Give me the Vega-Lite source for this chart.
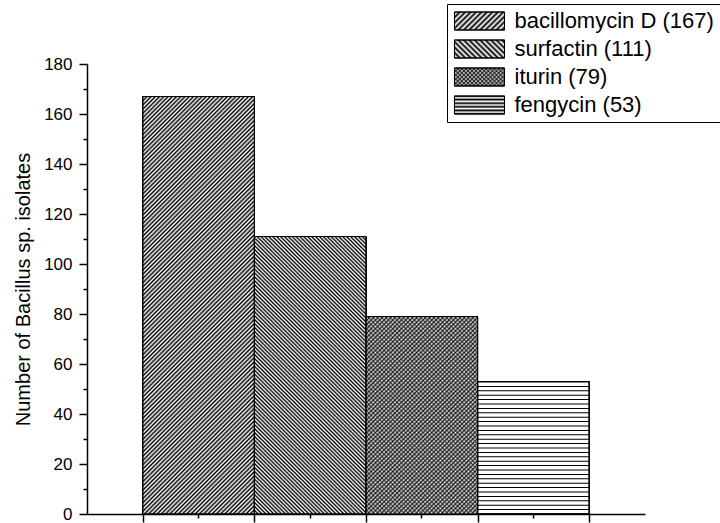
{
"$schema":"https://vega.github.io/schema/vega-lite/v6.json",
"width":558,"height":450,"autosize":"none",
"padding":{"left":87,"top":64,"right":75,"bottom":9},
"background":"white",
"config":{"view":{"stroke":null},"font":"Liberation Sans"},
"data":{"values":[
{"lipopeptide":"bacillomycin D (167)","count":167},
{"lipopeptide":"surfactin (111)","count":111},
{"lipopeptide":"iturin (79)","count":79},
{"lipopeptide":"fengycin (53)","count":53}
]},
"encoding":{"y":{"field":"count","type":"quantitative","scale":{"domain":[0,180],"nice":false},
"axis":{"title":"Number of Bacillus sp. isolates","values":[0,10,20,30,40,50,60,70,80,90,100,110,120,130,140,150,160,170,180],
"labelExpr":"datum.value % 20 === 0 ? datum.label : ''","labelOverlap":false,"labelFont":"Liberation Sans","labelFontSize":17,"labelColor":"black","labelPadding":7,
"tickSize":{"condition":{"test":"datum.value % 20 !== 0","value":4},"value":8},"tickWidth":1.5,"tickColor":"black","domainColor":"black","domainWidth":1.5,"grid":false,
"titleFont":"Liberation Sans","titleFontSize":20,"titleFontWeight":"normal","titleColor":"black","titlePadding":10}}},
"layer":[
{"encoding":{"x":{"field":"lipopeptide","type":"nominal","sort":null,
"scale":{"domain":["bacillomycin D (167)","surfactin (111)","iturin (79)","fengycin (53)"],"paddingInner":0,"paddingOuter":0.5},
"axis":{"title":null,"labels":false,"orient":"bottom","tickBand":"extent","tickSize":8,"tickWidth":1.5,"tickColor":"black","domainColor":"black","domainWidth":1.5,"grid":false}}},
"layer":[
{"mark":{"type":"bar","filled":false},"encoding":{"stroke":{"field":"lipopeptide","type":"nominal","scale":{"domain":["bacillomycin D (167)","surfactin (111)","iturin (79)","fengycin (53)"],"range":["black","black","black","black"]},
"legend":{"orient":"none","legendX":360,"legendY":-60,"title":null,"padding":6,"strokeColor":"black","symbolType":"M-2.78,-1H2.78V1H-2.78Z","symbolSize":324,"symbolOffset":15.5,"symbolStrokeColor":"black","symbolStrokeWidth":1,"labelFont":"Liberation Sans","labelFontSize":22,"labelColor":"black","labelOffset":24,"labelLimit":400,"rowPadding":6,
"encoding":{"symbols":{"fill":{"condition":[
{"test":"datum.value === 'bacillomycin D (167)'","value":{"gradient":"linear","x1":0,"y1":0,"x2":1.204,"y2":0.4334,"stops":[{"offset":0,"color":"#000"},{"offset":0.04,"color":"#fff"},{"offset":0.08,"color":"#000"},{"offset":0.12,"color":"#fff"},{"offset":0.16,"color":"#000"},{"offset":0.2,"color":"#fff"},{"offset":0.24,"color":"#000"},{"offset":0.28,"color":"#fff"},{"offset":0.32,"color":"#000"},{"offset":0.36,"color":"#fff"},{"offset":0.4,"color":"#000"},{"offset":0.44,"color":"#fff"},{"offset":0.48,"color":"#000"},{"offset":0.52,"color":"#fff"},{"offset":0.56,"color":"#000"},{"offset":0.6,"color":"#fff"},{"offset":0.64,"color":"#000"},{"offset":0.68,"color":"#fff"},{"offset":0.72,"color":"#000"},{"offset":0.76,"color":"#fff"},{"offset":0.8,"color":"#000"},{"offset":0.84,"color":"#fff"},{"offset":0.88,"color":"#000"},{"offset":0.92,"color":"#fff"},{"offset":0.96,"color":"#000"},{"offset":1,"color":"#fff"}]}},
{"test":"datum.value === 'surfactin (111)'","value":{"gradient":"linear","x1":0,"y1":1,"x2":1.204,"y2":0.5666,"stops":[{"offset":0,"color":"#000"},{"offset":0.04,"color":"#fff"},{"offset":0.08,"color":"#000"},{"offset":0.12,"color":"#fff"},{"offset":0.16,"color":"#000"},{"offset":0.2,"color":"#fff"},{"offset":0.24,"color":"#000"},{"offset":0.28,"color":"#fff"},{"offset":0.32,"color":"#000"},{"offset":0.36,"color":"#fff"},{"offset":0.4,"color":"#000"},{"offset":0.44,"color":"#fff"},{"offset":0.48,"color":"#000"},{"offset":0.52,"color":"#fff"},{"offset":0.56,"color":"#000"},{"offset":0.6,"color":"#fff"},{"offset":0.64,"color":"#000"},{"offset":0.68,"color":"#fff"},{"offset":0.72,"color":"#000"},{"offset":0.76,"color":"#fff"},{"offset":0.8,"color":"#000"},{"offset":0.84,"color":"#fff"},{"offset":0.88,"color":"#000"},{"offset":0.92,"color":"#fff"},{"offset":0.96,"color":"#000"},{"offset":1,"color":"#fff"}]}},
{"test":"datum.value === 'iturin (79)'","value":{"gradient":"linear","x1":0,"y1":0,"x2":1.204,"y2":0.4334,"stops":[{"offset":0,"color":"rgba(0,0,0,0.75)"},{"offset":0.03,"color":"rgba(0,0,0,0)"},{"offset":0.06,"color":"rgba(0,0,0,0.75)"},{"offset":0.09,"color":"rgba(0,0,0,0)"},{"offset":0.12,"color":"rgba(0,0,0,0.75)"},{"offset":0.15,"color":"rgba(0,0,0,0)"},{"offset":0.18,"color":"rgba(0,0,0,0.75)"},{"offset":0.21,"color":"rgba(0,0,0,0)"},{"offset":0.24,"color":"rgba(0,0,0,0.75)"},{"offset":0.27,"color":"rgba(0,0,0,0)"},{"offset":0.3,"color":"rgba(0,0,0,0.75)"},{"offset":0.33,"color":"rgba(0,0,0,0)"},{"offset":0.36,"color":"rgba(0,0,0,0.75)"},{"offset":0.39,"color":"rgba(0,0,0,0)"},{"offset":0.42,"color":"rgba(0,0,0,0.75)"},{"offset":0.45,"color":"rgba(0,0,0,0)"},{"offset":0.48,"color":"rgba(0,0,0,0.75)"},{"offset":0.51,"color":"rgba(0,0,0,0)"},{"offset":0.54,"color":"rgba(0,0,0,0.75)"},{"offset":0.57,"color":"rgba(0,0,0,0)"},{"offset":0.6,"color":"rgba(0,0,0,0.75)"},{"offset":0.63,"color":"rgba(0,0,0,0)"},{"offset":0.66,"color":"rgba(0,0,0,0.75)"},{"offset":0.69,"color":"rgba(0,0,0,0)"},{"offset":0.72,"color":"rgba(0,0,0,0.75)"},{"offset":0.75,"color":"rgba(0,0,0,0)"},{"offset":0.78,"color":"rgba(0,0,0,0.75)"},{"offset":0.81,"color":"rgba(0,0,0,0)"},{"offset":0.84,"color":"rgba(0,0,0,0.75)"},{"offset":0.87,"color":"rgba(0,0,0,0)"},{"offset":0.9,"color":"rgba(0,0,0,0.75)"},{"offset":0.93,"color":"rgba(0,0,0,0)"},{"offset":0.96,"color":"rgba(0,0,0,0.75)"},{"offset":0.99,"color":"rgba(0,0,0,0)"}]}}
],
"value":{"gradient":"linear","x1":0,"y1":0,"x2":0,"y2":1,"stops":[{"offset":0,"color":"#000"},{"offset":0.1,"color":"#fff"},{"offset":0.2,"color":"#000"},{"offset":0.3,"color":"#fff"},{"offset":0.4,"color":"#000"},{"offset":0.5,"color":"#fff"},{"offset":0.6,"color":"#000"},{"offset":0.7,"color":"#fff"},{"offset":0.8,"color":"#000"},{"offset":0.9,"color":"#fff"},{"offset":1,"color":"#000"}]}}}}}}}},
{"mark":{"type":"bar","filled":false},"encoding":{"color":{"field":"lipopeptide","type":"nominal","sort":null,"scale":{"range":["black","black","black","black"]},
"legend":{"orient":"none","legendX":360,"legendY":-60,"title":null,"padding":6,"symbolType":"M-2.78,-1H2.78V1H-2.78Z","symbolSize":324,"symbolOffset":15.5,"symbolStrokeWidth":1,"labelFont":"Liberation Sans","labelFontSize":22,"labelOpacity":0,"labelOffset":24,"labelLimit":400,"rowPadding":6,
"encoding":{"symbols":{"fill":{"condition":{"test":"datum.value === 'iturin (79)'","value":{"gradient":"linear","x1":0,"y1":1,"x2":1.204,"y2":0.5666,"stops":[{"offset":0,"color":"rgba(0,0,0,0.75)"},{"offset":0.03,"color":"rgba(0,0,0,0)"},{"offset":0.06,"color":"rgba(0,0,0,0.75)"},{"offset":0.09,"color":"rgba(0,0,0,0)"},{"offset":0.12,"color":"rgba(0,0,0,0.75)"},{"offset":0.15,"color":"rgba(0,0,0,0)"},{"offset":0.18,"color":"rgba(0,0,0,0.75)"},{"offset":0.21,"color":"rgba(0,0,0,0)"},{"offset":0.24,"color":"rgba(0,0,0,0.75)"},{"offset":0.27,"color":"rgba(0,0,0,0)"},{"offset":0.3,"color":"rgba(0,0,0,0.75)"},{"offset":0.33,"color":"rgba(0,0,0,0)"},{"offset":0.36,"color":"rgba(0,0,0,0.75)"},{"offset":0.39,"color":"rgba(0,0,0,0)"},{"offset":0.42,"color":"rgba(0,0,0,0.75)"},{"offset":0.45,"color":"rgba(0,0,0,0)"},{"offset":0.48,"color":"rgba(0,0,0,0.75)"},{"offset":0.51,"color":"rgba(0,0,0,0)"},{"offset":0.54,"color":"rgba(0,0,0,0.75)"},{"offset":0.57,"color":"rgba(0,0,0,0)"},{"offset":0.6,"color":"rgba(0,0,0,0.75)"},{"offset":0.63,"color":"rgba(0,0,0,0)"},{"offset":0.66,"color":"rgba(0,0,0,0.75)"},{"offset":0.69,"color":"rgba(0,0,0,0)"},{"offset":0.72,"color":"rgba(0,0,0,0.75)"},{"offset":0.75,"color":"rgba(0,0,0,0)"},{"offset":0.78,"color":"rgba(0,0,0,0.75)"},{"offset":0.81,"color":"rgba(0,0,0,0)"},{"offset":0.84,"color":"rgba(0,0,0,0.75)"},{"offset":0.87,"color":"rgba(0,0,0,0)"},{"offset":0.9,"color":"rgba(0,0,0,0.75)"},{"offset":0.93,"color":"rgba(0,0,0,0)"},{"offset":0.96,"color":"rgba(0,0,0,0.75)"},{"offset":0.99,"color":"rgba(0,0,0,0)"}]}},"value":"transparent"}}}}}}},
{"transform":[{"filter":"datum.lipopeptide === 'bacillomycin D (167)'"}],
"mark":{"type":"bar","stroke":"black","strokeWidth":1,"fill":{"gradient":"linear","x1":0,"y1":0,"x2":0.3162,"y2":1.1828,"stops":[
{"offset":0,"color":"#000"},{"offset":0.004,"color":"#fff"},{"offset":0.008,"color":"#000"},{"offset":0.012,"color":"#fff"},{"offset":0.016,"color":"#000"},{"offset":0.02,"color":"#fff"},{"offset":0.024,"color":"#000"},{"offset":0.028,"color":"#fff"},{"offset":0.032,"color":"#000"},{"offset":0.036,"color":"#fff"},
{"offset":0.04,"color":"#000"},{"offset":0.044,"color":"#fff"},{"offset":0.048,"color":"#000"},{"offset":0.052,"color":"#fff"},{"offset":0.056,"color":"#000"},{"offset":0.06,"color":"#fff"},{"offset":0.064,"color":"#000"},{"offset":0.068,"color":"#fff"},{"offset":0.072,"color":"#000"},{"offset":0.076,"color":"#fff"},
{"offset":0.08,"color":"#000"},{"offset":0.084,"color":"#fff"},{"offset":0.088,"color":"#000"},{"offset":0.092,"color":"#fff"},{"offset":0.096,"color":"#000"},{"offset":0.1,"color":"#fff"},{"offset":0.104,"color":"#000"},{"offset":0.108,"color":"#fff"},{"offset":0.112,"color":"#000"},{"offset":0.116,"color":"#fff"},
{"offset":0.12,"color":"#000"},{"offset":0.124,"color":"#fff"},{"offset":0.128,"color":"#000"},{"offset":0.132,"color":"#fff"},{"offset":0.136,"color":"#000"},{"offset":0.14,"color":"#fff"},{"offset":0.144,"color":"#000"},{"offset":0.148,"color":"#fff"},{"offset":0.152,"color":"#000"},{"offset":0.156,"color":"#fff"},
{"offset":0.16,"color":"#000"},{"offset":0.164,"color":"#fff"},{"offset":0.168,"color":"#000"},{"offset":0.172,"color":"#fff"},{"offset":0.176,"color":"#000"},{"offset":0.18,"color":"#fff"},{"offset":0.184,"color":"#000"},{"offset":0.188,"color":"#fff"},{"offset":0.192,"color":"#000"},{"offset":0.196,"color":"#fff"},
{"offset":0.2,"color":"#000"},{"offset":0.204,"color":"#fff"},{"offset":0.208,"color":"#000"},{"offset":0.212,"color":"#fff"},{"offset":0.216,"color":"#000"},{"offset":0.22,"color":"#fff"},{"offset":0.224,"color":"#000"},{"offset":0.228,"color":"#fff"},{"offset":0.232,"color":"#000"},{"offset":0.236,"color":"#fff"},
{"offset":0.24,"color":"#000"},{"offset":0.244,"color":"#fff"},{"offset":0.248,"color":"#000"},{"offset":0.252,"color":"#fff"},{"offset":0.256,"color":"#000"},{"offset":0.26,"color":"#fff"},{"offset":0.264,"color":"#000"},{"offset":0.268,"color":"#fff"},{"offset":0.272,"color":"#000"},{"offset":0.276,"color":"#fff"},
{"offset":0.28,"color":"#000"},{"offset":0.284,"color":"#fff"},{"offset":0.288,"color":"#000"},{"offset":0.292,"color":"#fff"},{"offset":0.296,"color":"#000"},{"offset":0.3,"color":"#fff"},{"offset":0.304,"color":"#000"},{"offset":0.308,"color":"#fff"},{"offset":0.312,"color":"#000"},{"offset":0.316,"color":"#fff"},
{"offset":0.32,"color":"#000"},{"offset":0.324,"color":"#fff"},{"offset":0.328,"color":"#000"},{"offset":0.332,"color":"#fff"},{"offset":0.336,"color":"#000"},{"offset":0.34,"color":"#fff"},{"offset":0.344,"color":"#000"},{"offset":0.348,"color":"#fff"},{"offset":0.352,"color":"#000"},{"offset":0.356,"color":"#fff"},
{"offset":0.36,"color":"#000"},{"offset":0.364,"color":"#fff"},{"offset":0.368,"color":"#000"},{"offset":0.372,"color":"#fff"},{"offset":0.376,"color":"#000"},{"offset":0.38,"color":"#fff"},{"offset":0.384,"color":"#000"},{"offset":0.388,"color":"#fff"},{"offset":0.392,"color":"#000"},{"offset":0.396,"color":"#fff"},
{"offset":0.4,"color":"#000"},{"offset":0.404,"color":"#fff"},{"offset":0.408,"color":"#000"},{"offset":0.412,"color":"#fff"},{"offset":0.416,"color":"#000"},{"offset":0.42,"color":"#fff"},{"offset":0.424,"color":"#000"},{"offset":0.428,"color":"#fff"},{"offset":0.432,"color":"#000"},{"offset":0.436,"color":"#fff"},
{"offset":0.44,"color":"#000"},{"offset":0.444,"color":"#fff"},{"offset":0.448,"color":"#000"},{"offset":0.452,"color":"#fff"},{"offset":0.456,"color":"#000"},{"offset":0.46,"color":"#fff"},{"offset":0.464,"color":"#000"},{"offset":0.468,"color":"#fff"},{"offset":0.472,"color":"#000"},{"offset":0.476,"color":"#fff"},
{"offset":0.48,"color":"#000"},{"offset":0.484,"color":"#fff"},{"offset":0.488,"color":"#000"},{"offset":0.492,"color":"#fff"},{"offset":0.496,"color":"#000"},{"offset":0.5,"color":"#fff"},{"offset":0.504,"color":"#000"},{"offset":0.508,"color":"#fff"},{"offset":0.512,"color":"#000"},{"offset":0.516,"color":"#fff"},
{"offset":0.52,"color":"#000"},{"offset":0.524,"color":"#fff"},{"offset":0.528,"color":"#000"},{"offset":0.532,"color":"#fff"},{"offset":0.536,"color":"#000"},{"offset":0.54,"color":"#fff"},{"offset":0.544,"color":"#000"},{"offset":0.548,"color":"#fff"},{"offset":0.552,"color":"#000"},{"offset":0.556,"color":"#fff"},
{"offset":0.56,"color":"#000"},{"offset":0.564,"color":"#fff"},{"offset":0.568,"color":"#000"},{"offset":0.572,"color":"#fff"},{"offset":0.576,"color":"#000"},{"offset":0.58,"color":"#fff"},{"offset":0.584,"color":"#000"},{"offset":0.588,"color":"#fff"},{"offset":0.592,"color":"#000"},{"offset":0.596,"color":"#fff"},
{"offset":0.6,"color":"#000"},{"offset":0.604,"color":"#fff"},{"offset":0.608,"color":"#000"},{"offset":0.612,"color":"#fff"},{"offset":0.616,"color":"#000"},{"offset":0.62,"color":"#fff"},{"offset":0.624,"color":"#000"},{"offset":0.628,"color":"#fff"},{"offset":0.632,"color":"#000"},{"offset":0.636,"color":"#fff"},
{"offset":0.64,"color":"#000"},{"offset":0.644,"color":"#fff"},{"offset":0.648,"color":"#000"},{"offset":0.652,"color":"#fff"},{"offset":0.656,"color":"#000"},{"offset":0.66,"color":"#fff"},{"offset":0.664,"color":"#000"},{"offset":0.668,"color":"#fff"},{"offset":0.672,"color":"#000"},{"offset":0.676,"color":"#fff"},
{"offset":0.68,"color":"#000"},{"offset":0.684,"color":"#fff"},{"offset":0.688,"color":"#000"},{"offset":0.692,"color":"#fff"},{"offset":0.696,"color":"#000"},{"offset":0.7,"color":"#fff"},{"offset":0.704,"color":"#000"},{"offset":0.708,"color":"#fff"},{"offset":0.712,"color":"#000"},{"offset":0.716,"color":"#fff"},
{"offset":0.72,"color":"#000"},{"offset":0.724,"color":"#fff"},{"offset":0.728,"color":"#000"},{"offset":0.732,"color":"#fff"},{"offset":0.736,"color":"#000"},{"offset":0.74,"color":"#fff"},{"offset":0.744,"color":"#000"},{"offset":0.748,"color":"#fff"},{"offset":0.752,"color":"#000"},{"offset":0.756,"color":"#fff"},
{"offset":0.76,"color":"#000"},{"offset":0.764,"color":"#fff"},{"offset":0.768,"color":"#000"},{"offset":0.772,"color":"#fff"},{"offset":0.776,"color":"#000"},{"offset":0.78,"color":"#fff"},{"offset":0.784,"color":"#000"},{"offset":0.788,"color":"#fff"},{"offset":0.792,"color":"#000"},{"offset":0.796,"color":"#fff"},
{"offset":0.8,"color":"#000"},{"offset":0.804,"color":"#fff"},{"offset":0.808,"color":"#000"},{"offset":0.812,"color":"#fff"},{"offset":0.816,"color":"#000"},{"offset":0.82,"color":"#fff"},{"offset":0.824,"color":"#000"},{"offset":0.828,"color":"#fff"},{"offset":0.832,"color":"#000"},{"offset":0.836,"color":"#fff"},
{"offset":0.84,"color":"#000"},{"offset":0.844,"color":"#fff"},{"offset":0.848,"color":"#000"},{"offset":0.852,"color":"#fff"},{"offset":0.856,"color":"#000"},{"offset":0.86,"color":"#fff"},{"offset":0.864,"color":"#000"},{"offset":0.868,"color":"#fff"},{"offset":0.872,"color":"#000"},{"offset":0.876,"color":"#fff"},
{"offset":0.88,"color":"#000"},{"offset":0.884,"color":"#fff"},{"offset":0.888,"color":"#000"},{"offset":0.892,"color":"#fff"},{"offset":0.896,"color":"#000"},{"offset":0.9,"color":"#fff"},{"offset":0.904,"color":"#000"},{"offset":0.908,"color":"#fff"},{"offset":0.912,"color":"#000"},{"offset":0.916,"color":"#fff"},
{"offset":0.92,"color":"#000"},{"offset":0.924,"color":"#fff"},{"offset":0.928,"color":"#000"},{"offset":0.932,"color":"#fff"},{"offset":0.936,"color":"#000"},{"offset":0.94,"color":"#fff"},{"offset":0.944,"color":"#000"},{"offset":0.948,"color":"#fff"},{"offset":0.952,"color":"#000"},{"offset":0.956,"color":"#fff"},
{"offset":0.96,"color":"#000"},{"offset":0.964,"color":"#fff"},{"offset":0.968,"color":"#000"},{"offset":0.972,"color":"#fff"},{"offset":0.976,"color":"#000"},{"offset":0.98,"color":"#fff"},{"offset":0.984,"color":"#000"},{"offset":0.988,"color":"#fff"},{"offset":0.992,"color":"#000"},{"offset":0.996,"color":"#fff"},
{"offset":1,"color":"#000"}]}}},
{"transform":[{"filter":"datum.lipopeptide === 'surfactin (111)'"}],
"mark":{"type":"bar","stroke":"black","strokeWidth":1,"fill":{"gradient":"linear","x1":0,"y1":1,"x2":0.4854,"y2":-0.207,"stops":[
{"offset":0,"color":"#000"},{"offset":0.005,"color":"#fff"},{"offset":0.01,"color":"#000"},{"offset":0.015,"color":"#fff"},{"offset":0.02,"color":"#000"},{"offset":0.025,"color":"#fff"},{"offset":0.03,"color":"#000"},{"offset":0.035,"color":"#fff"},{"offset":0.04,"color":"#000"},{"offset":0.045,"color":"#fff"},
{"offset":0.05,"color":"#000"},{"offset":0.055,"color":"#fff"},{"offset":0.06,"color":"#000"},{"offset":0.065,"color":"#fff"},{"offset":0.07,"color":"#000"},{"offset":0.075,"color":"#fff"},{"offset":0.08,"color":"#000"},{"offset":0.085,"color":"#fff"},{"offset":0.09,"color":"#000"},{"offset":0.095,"color":"#fff"},
{"offset":0.1,"color":"#000"},{"offset":0.105,"color":"#fff"},{"offset":0.11,"color":"#000"},{"offset":0.115,"color":"#fff"},{"offset":0.12,"color":"#000"},{"offset":0.125,"color":"#fff"},{"offset":0.13,"color":"#000"},{"offset":0.135,"color":"#fff"},{"offset":0.14,"color":"#000"},{"offset":0.145,"color":"#fff"},
{"offset":0.15,"color":"#000"},{"offset":0.155,"color":"#fff"},{"offset":0.16,"color":"#000"},{"offset":0.165,"color":"#fff"},{"offset":0.17,"color":"#000"},{"offset":0.175,"color":"#fff"},{"offset":0.18,"color":"#000"},{"offset":0.185,"color":"#fff"},{"offset":0.19,"color":"#000"},{"offset":0.195,"color":"#fff"},
{"offset":0.2,"color":"#000"},{"offset":0.205,"color":"#fff"},{"offset":0.21,"color":"#000"},{"offset":0.215,"color":"#fff"},{"offset":0.22,"color":"#000"},{"offset":0.225,"color":"#fff"},{"offset":0.23,"color":"#000"},{"offset":0.235,"color":"#fff"},{"offset":0.24,"color":"#000"},{"offset":0.245,"color":"#fff"},
{"offset":0.25,"color":"#000"},{"offset":0.255,"color":"#fff"},{"offset":0.26,"color":"#000"},{"offset":0.265,"color":"#fff"},{"offset":0.27,"color":"#000"},{"offset":0.275,"color":"#fff"},{"offset":0.28,"color":"#000"},{"offset":0.285,"color":"#fff"},{"offset":0.29,"color":"#000"},{"offset":0.295,"color":"#fff"},
{"offset":0.3,"color":"#000"},{"offset":0.305,"color":"#fff"},{"offset":0.31,"color":"#000"},{"offset":0.315,"color":"#fff"},{"offset":0.32,"color":"#000"},{"offset":0.325,"color":"#fff"},{"offset":0.33,"color":"#000"},{"offset":0.335,"color":"#fff"},{"offset":0.34,"color":"#000"},{"offset":0.345,"color":"#fff"},
{"offset":0.35,"color":"#000"},{"offset":0.355,"color":"#fff"},{"offset":0.36,"color":"#000"},{"offset":0.365,"color":"#fff"},{"offset":0.37,"color":"#000"},{"offset":0.375,"color":"#fff"},{"offset":0.38,"color":"#000"},{"offset":0.385,"color":"#fff"},{"offset":0.39,"color":"#000"},{"offset":0.395,"color":"#fff"},
{"offset":0.4,"color":"#000"},{"offset":0.405,"color":"#fff"},{"offset":0.41,"color":"#000"},{"offset":0.415,"color":"#fff"},{"offset":0.42,"color":"#000"},{"offset":0.425,"color":"#fff"},{"offset":0.43,"color":"#000"},{"offset":0.435,"color":"#fff"},{"offset":0.44,"color":"#000"},{"offset":0.445,"color":"#fff"},
{"offset":0.45,"color":"#000"},{"offset":0.455,"color":"#fff"},{"offset":0.46,"color":"#000"},{"offset":0.465,"color":"#fff"},{"offset":0.47,"color":"#000"},{"offset":0.475,"color":"#fff"},{"offset":0.48,"color":"#000"},{"offset":0.485,"color":"#fff"},{"offset":0.49,"color":"#000"},{"offset":0.495,"color":"#fff"},
{"offset":0.5,"color":"#000"},{"offset":0.505,"color":"#fff"},{"offset":0.51,"color":"#000"},{"offset":0.515,"color":"#fff"},{"offset":0.52,"color":"#000"},{"offset":0.525,"color":"#fff"},{"offset":0.53,"color":"#000"},{"offset":0.535,"color":"#fff"},{"offset":0.54,"color":"#000"},{"offset":0.545,"color":"#fff"},
{"offset":0.55,"color":"#000"},{"offset":0.555,"color":"#fff"},{"offset":0.56,"color":"#000"},{"offset":0.565,"color":"#fff"},{"offset":0.57,"color":"#000"},{"offset":0.575,"color":"#fff"},{"offset":0.58,"color":"#000"},{"offset":0.585,"color":"#fff"},{"offset":0.59,"color":"#000"},{"offset":0.595,"color":"#fff"},
{"offset":0.6,"color":"#000"},{"offset":0.605,"color":"#fff"},{"offset":0.61,"color":"#000"},{"offset":0.615,"color":"#fff"},{"offset":0.62,"color":"#000"},{"offset":0.625,"color":"#fff"},{"offset":0.63,"color":"#000"},{"offset":0.635,"color":"#fff"},{"offset":0.64,"color":"#000"},{"offset":0.645,"color":"#fff"},
{"offset":0.65,"color":"#000"},{"offset":0.655,"color":"#fff"},{"offset":0.66,"color":"#000"},{"offset":0.665,"color":"#fff"},{"offset":0.67,"color":"#000"},{"offset":0.675,"color":"#fff"},{"offset":0.68,"color":"#000"},{"offset":0.685,"color":"#fff"},{"offset":0.69,"color":"#000"},{"offset":0.695,"color":"#fff"},
{"offset":0.7,"color":"#000"},{"offset":0.705,"color":"#fff"},{"offset":0.71,"color":"#000"},{"offset":0.715,"color":"#fff"},{"offset":0.72,"color":"#000"},{"offset":0.725,"color":"#fff"},{"offset":0.73,"color":"#000"},{"offset":0.735,"color":"#fff"},{"offset":0.74,"color":"#000"},{"offset":0.745,"color":"#fff"},
{"offset":0.75,"color":"#000"},{"offset":0.755,"color":"#fff"},{"offset":0.76,"color":"#000"},{"offset":0.765,"color":"#fff"},{"offset":0.77,"color":"#000"},{"offset":0.775,"color":"#fff"},{"offset":0.78,"color":"#000"},{"offset":0.785,"color":"#fff"},{"offset":0.79,"color":"#000"},{"offset":0.795,"color":"#fff"},
{"offset":0.8,"color":"#000"},{"offset":0.805,"color":"#fff"},{"offset":0.81,"color":"#000"},{"offset":0.815,"color":"#fff"},{"offset":0.82,"color":"#000"},{"offset":0.825,"color":"#fff"},{"offset":0.83,"color":"#000"},{"offset":0.835,"color":"#fff"},{"offset":0.84,"color":"#000"},{"offset":0.845,"color":"#fff"},
{"offset":0.85,"color":"#000"},{"offset":0.855,"color":"#fff"},{"offset":0.86,"color":"#000"},{"offset":0.865,"color":"#fff"},{"offset":0.87,"color":"#000"},{"offset":0.875,"color":"#fff"},{"offset":0.88,"color":"#000"},{"offset":0.885,"color":"#fff"},{"offset":0.89,"color":"#000"},{"offset":0.895,"color":"#fff"},
{"offset":0.9,"color":"#000"},{"offset":0.905,"color":"#fff"},{"offset":0.91,"color":"#000"},{"offset":0.915,"color":"#fff"},{"offset":0.92,"color":"#000"},{"offset":0.925,"color":"#fff"},{"offset":0.93,"color":"#000"},{"offset":0.935,"color":"#fff"},{"offset":0.94,"color":"#000"},{"offset":0.945,"color":"#fff"},
{"offset":0.95,"color":"#000"},{"offset":0.955,"color":"#fff"},{"offset":0.96,"color":"#000"},{"offset":0.965,"color":"#fff"},{"offset":0.97,"color":"#000"},{"offset":0.975,"color":"#fff"},{"offset":0.98,"color":"#000"},{"offset":0.985,"color":"#fff"},{"offset":0.99,"color":"#000"},{"offset":0.995,"color":"#fff"},
{"offset":1,"color":"#000"}]}}},
{"transform":[{"filter":"datum.lipopeptide === 'iturin (79)'"}],
"mark":{"type":"bar","fill":{"gradient":"linear","x1":0,"y1":0,"x2":0.6703,"y2":1.1863,"stops":[
{"offset":0,"color":"#333"},{"offset":0.007,"color":"#fff"},{"offset":0.014,"color":"#333"},{"offset":0.021,"color":"#fff"},{"offset":0.028,"color":"#333"},{"offset":0.035,"color":"#fff"},{"offset":0.042,"color":"#333"},{"offset":0.049,"color":"#fff"},{"offset":0.056,"color":"#333"},{"offset":0.063,"color":"#fff"},
{"offset":0.07,"color":"#333"},{"offset":0.077,"color":"#fff"},{"offset":0.084,"color":"#333"},{"offset":0.091,"color":"#fff"},{"offset":0.098,"color":"#333"},{"offset":0.105,"color":"#fff"},{"offset":0.112,"color":"#333"},{"offset":0.119,"color":"#fff"},{"offset":0.126,"color":"#333"},{"offset":0.133,"color":"#fff"},
{"offset":0.14,"color":"#333"},{"offset":0.147,"color":"#fff"},{"offset":0.154,"color":"#333"},{"offset":0.161,"color":"#fff"},{"offset":0.168,"color":"#333"},{"offset":0.175,"color":"#fff"},{"offset":0.182,"color":"#333"},{"offset":0.189,"color":"#fff"},{"offset":0.196,"color":"#333"},{"offset":0.203,"color":"#fff"},
{"offset":0.21,"color":"#333"},{"offset":0.217,"color":"#fff"},{"offset":0.224,"color":"#333"},{"offset":0.231,"color":"#fff"},{"offset":0.238,"color":"#333"},{"offset":0.245,"color":"#fff"},{"offset":0.252,"color":"#333"},{"offset":0.259,"color":"#fff"},{"offset":0.266,"color":"#333"},{"offset":0.273,"color":"#fff"},
{"offset":0.28,"color":"#333"},{"offset":0.287,"color":"#fff"},{"offset":0.294,"color":"#333"},{"offset":0.301,"color":"#fff"},{"offset":0.308,"color":"#333"},{"offset":0.315,"color":"#fff"},{"offset":0.322,"color":"#333"},{"offset":0.329,"color":"#fff"},{"offset":0.336,"color":"#333"},{"offset":0.343,"color":"#fff"},
{"offset":0.35,"color":"#333"},{"offset":0.357,"color":"#fff"},{"offset":0.364,"color":"#333"},{"offset":0.371,"color":"#fff"},{"offset":0.378,"color":"#333"},{"offset":0.385,"color":"#fff"},{"offset":0.392,"color":"#333"},{"offset":0.399,"color":"#fff"},{"offset":0.406,"color":"#333"},{"offset":0.413,"color":"#fff"},
{"offset":0.42,"color":"#333"},{"offset":0.427,"color":"#fff"},{"offset":0.434,"color":"#333"},{"offset":0.441,"color":"#fff"},{"offset":0.448,"color":"#333"},{"offset":0.455,"color":"#fff"},{"offset":0.462,"color":"#333"},{"offset":0.469,"color":"#fff"},{"offset":0.476,"color":"#333"},{"offset":0.483,"color":"#fff"},
{"offset":0.49,"color":"#333"},{"offset":0.497,"color":"#fff"},{"offset":0.504,"color":"#333"},{"offset":0.511,"color":"#fff"},{"offset":0.518,"color":"#333"},{"offset":0.525,"color":"#fff"},{"offset":0.532,"color":"#333"},{"offset":0.539,"color":"#fff"},{"offset":0.546,"color":"#333"},{"offset":0.553,"color":"#fff"},
{"offset":0.56,"color":"#333"},{"offset":0.567,"color":"#fff"},{"offset":0.574,"color":"#333"},{"offset":0.581,"color":"#fff"},{"offset":0.588,"color":"#333"},{"offset":0.595,"color":"#fff"},{"offset":0.602,"color":"#333"},{"offset":0.609,"color":"#fff"},{"offset":0.616,"color":"#333"},{"offset":0.623,"color":"#fff"},
{"offset":0.63,"color":"#333"},{"offset":0.637,"color":"#fff"},{"offset":0.644,"color":"#333"},{"offset":0.651,"color":"#fff"},{"offset":0.658,"color":"#333"},{"offset":0.665,"color":"#fff"},{"offset":0.672,"color":"#333"},{"offset":0.679,"color":"#fff"},{"offset":0.686,"color":"#333"},{"offset":0.693,"color":"#fff"},
{"offset":0.7,"color":"#333"},{"offset":0.707,"color":"#fff"},{"offset":0.714,"color":"#333"},{"offset":0.721,"color":"#fff"},{"offset":0.728,"color":"#333"},{"offset":0.735,"color":"#fff"},{"offset":0.742,"color":"#333"},{"offset":0.749,"color":"#fff"},{"offset":0.756,"color":"#333"},{"offset":0.763,"color":"#fff"},
{"offset":0.77,"color":"#333"},{"offset":0.777,"color":"#fff"},{"offset":0.784,"color":"#333"},{"offset":0.791,"color":"#fff"},{"offset":0.798,"color":"#333"},{"offset":0.805,"color":"#fff"},{"offset":0.812,"color":"#333"},{"offset":0.819,"color":"#fff"},{"offset":0.826,"color":"#333"},{"offset":0.833,"color":"#fff"},
{"offset":0.84,"color":"#333"},{"offset":0.847,"color":"#fff"},{"offset":0.854,"color":"#333"},{"offset":0.861,"color":"#fff"},{"offset":0.868,"color":"#333"},{"offset":0.875,"color":"#fff"},{"offset":0.882,"color":"#333"},{"offset":0.889,"color":"#fff"},{"offset":0.896,"color":"#333"},{"offset":0.903,"color":"#fff"},
{"offset":0.91,"color":"#333"},{"offset":0.917,"color":"#fff"},{"offset":0.924,"color":"#333"},{"offset":0.931,"color":"#fff"},{"offset":0.938,"color":"#333"},{"offset":0.945,"color":"#fff"},{"offset":0.952,"color":"#333"},{"offset":0.959,"color":"#fff"},{"offset":0.966,"color":"#333"},{"offset":0.973,"color":"#fff"},
{"offset":0.98,"color":"#333"},{"offset":0.987,"color":"#fff"},{"offset":0.994,"color":"#333"},{"offset":1,"color":"#aaa"}]}}},
{"transform":[{"filter":"datum.lipopeptide === 'iturin (79)'"}],
"mark":{"type":"bar","fill":{"gradient":"linear","x1":0,"y1":1,"x2":0.6703,"y2":-0.1863,"stops":[
{"offset":0,"color":"rgba(0,0,0,0.6)"},{"offset":0.007,"color":"rgba(0,0,0,0)"},{"offset":0.014,"color":"rgba(0,0,0,0.6)"},{"offset":0.021,"color":"rgba(0,0,0,0)"},{"offset":0.028,"color":"rgba(0,0,0,0.6)"},{"offset":0.035,"color":"rgba(0,0,0,0)"},{"offset":0.042,"color":"rgba(0,0,0,0.6)"},{"offset":0.049,"color":"rgba(0,0,0,0)"},{"offset":0.056,"color":"rgba(0,0,0,0.6)"},{"offset":0.063,"color":"rgba(0,0,0,0)"},
{"offset":0.07,"color":"rgba(0,0,0,0.6)"},{"offset":0.077,"color":"rgba(0,0,0,0)"},{"offset":0.084,"color":"rgba(0,0,0,0.6)"},{"offset":0.091,"color":"rgba(0,0,0,0)"},{"offset":0.098,"color":"rgba(0,0,0,0.6)"},{"offset":0.105,"color":"rgba(0,0,0,0)"},{"offset":0.112,"color":"rgba(0,0,0,0.6)"},{"offset":0.119,"color":"rgba(0,0,0,0)"},{"offset":0.126,"color":"rgba(0,0,0,0.6)"},{"offset":0.133,"color":"rgba(0,0,0,0)"},
{"offset":0.14,"color":"rgba(0,0,0,0.6)"},{"offset":0.147,"color":"rgba(0,0,0,0)"},{"offset":0.154,"color":"rgba(0,0,0,0.6)"},{"offset":0.161,"color":"rgba(0,0,0,0)"},{"offset":0.168,"color":"rgba(0,0,0,0.6)"},{"offset":0.175,"color":"rgba(0,0,0,0)"},{"offset":0.182,"color":"rgba(0,0,0,0.6)"},{"offset":0.189,"color":"rgba(0,0,0,0)"},{"offset":0.196,"color":"rgba(0,0,0,0.6)"},{"offset":0.203,"color":"rgba(0,0,0,0)"},
{"offset":0.21,"color":"rgba(0,0,0,0.6)"},{"offset":0.217,"color":"rgba(0,0,0,0)"},{"offset":0.224,"color":"rgba(0,0,0,0.6)"},{"offset":0.231,"color":"rgba(0,0,0,0)"},{"offset":0.238,"color":"rgba(0,0,0,0.6)"},{"offset":0.245,"color":"rgba(0,0,0,0)"},{"offset":0.252,"color":"rgba(0,0,0,0.6)"},{"offset":0.259,"color":"rgba(0,0,0,0)"},{"offset":0.266,"color":"rgba(0,0,0,0.6)"},{"offset":0.273,"color":"rgba(0,0,0,0)"},
{"offset":0.28,"color":"rgba(0,0,0,0.6)"},{"offset":0.287,"color":"rgba(0,0,0,0)"},{"offset":0.294,"color":"rgba(0,0,0,0.6)"},{"offset":0.301,"color":"rgba(0,0,0,0)"},{"offset":0.308,"color":"rgba(0,0,0,0.6)"},{"offset":0.315,"color":"rgba(0,0,0,0)"},{"offset":0.322,"color":"rgba(0,0,0,0.6)"},{"offset":0.329,"color":"rgba(0,0,0,0)"},{"offset":0.336,"color":"rgba(0,0,0,0.6)"},{"offset":0.343,"color":"rgba(0,0,0,0)"},
{"offset":0.35,"color":"rgba(0,0,0,0.6)"},{"offset":0.357,"color":"rgba(0,0,0,0)"},{"offset":0.364,"color":"rgba(0,0,0,0.6)"},{"offset":0.371,"color":"rgba(0,0,0,0)"},{"offset":0.378,"color":"rgba(0,0,0,0.6)"},{"offset":0.385,"color":"rgba(0,0,0,0)"},{"offset":0.392,"color":"rgba(0,0,0,0.6)"},{"offset":0.399,"color":"rgba(0,0,0,0)"},{"offset":0.406,"color":"rgba(0,0,0,0.6)"},{"offset":0.413,"color":"rgba(0,0,0,0)"},
{"offset":0.42,"color":"rgba(0,0,0,0.6)"},{"offset":0.427,"color":"rgba(0,0,0,0)"},{"offset":0.434,"color":"rgba(0,0,0,0.6)"},{"offset":0.441,"color":"rgba(0,0,0,0)"},{"offset":0.448,"color":"rgba(0,0,0,0.6)"},{"offset":0.455,"color":"rgba(0,0,0,0)"},{"offset":0.462,"color":"rgba(0,0,0,0.6)"},{"offset":0.469,"color":"rgba(0,0,0,0)"},{"offset":0.476,"color":"rgba(0,0,0,0.6)"},{"offset":0.483,"color":"rgba(0,0,0,0)"},
{"offset":0.49,"color":"rgba(0,0,0,0.6)"},{"offset":0.497,"color":"rgba(0,0,0,0)"},{"offset":0.504,"color":"rgba(0,0,0,0.6)"},{"offset":0.511,"color":"rgba(0,0,0,0)"},{"offset":0.518,"color":"rgba(0,0,0,0.6)"},{"offset":0.525,"color":"rgba(0,0,0,0)"},{"offset":0.532,"color":"rgba(0,0,0,0.6)"},{"offset":0.539,"color":"rgba(0,0,0,0)"},{"offset":0.546,"color":"rgba(0,0,0,0.6)"},{"offset":0.553,"color":"rgba(0,0,0,0)"},
{"offset":0.56,"color":"rgba(0,0,0,0.6)"},{"offset":0.567,"color":"rgba(0,0,0,0)"},{"offset":0.574,"color":"rgba(0,0,0,0.6)"},{"offset":0.581,"color":"rgba(0,0,0,0)"},{"offset":0.588,"color":"rgba(0,0,0,0.6)"},{"offset":0.595,"color":"rgba(0,0,0,0)"},{"offset":0.602,"color":"rgba(0,0,0,0.6)"},{"offset":0.609,"color":"rgba(0,0,0,0)"},{"offset":0.616,"color":"rgba(0,0,0,0.6)"},{"offset":0.623,"color":"rgba(0,0,0,0)"},
{"offset":0.63,"color":"rgba(0,0,0,0.6)"},{"offset":0.637,"color":"rgba(0,0,0,0)"},{"offset":0.644,"color":"rgba(0,0,0,0.6)"},{"offset":0.651,"color":"rgba(0,0,0,0)"},{"offset":0.658,"color":"rgba(0,0,0,0.6)"},{"offset":0.665,"color":"rgba(0,0,0,0)"},{"offset":0.672,"color":"rgba(0,0,0,0.6)"},{"offset":0.679,"color":"rgba(0,0,0,0)"},{"offset":0.686,"color":"rgba(0,0,0,0.6)"},{"offset":0.693,"color":"rgba(0,0,0,0)"},
{"offset":0.7,"color":"rgba(0,0,0,0.6)"},{"offset":0.707,"color":"rgba(0,0,0,0)"},{"offset":0.714,"color":"rgba(0,0,0,0.6)"},{"offset":0.721,"color":"rgba(0,0,0,0)"},{"offset":0.728,"color":"rgba(0,0,0,0.6)"},{"offset":0.735,"color":"rgba(0,0,0,0)"},{"offset":0.742,"color":"rgba(0,0,0,0.6)"},{"offset":0.749,"color":"rgba(0,0,0,0)"},{"offset":0.756,"color":"rgba(0,0,0,0.6)"},{"offset":0.763,"color":"rgba(0,0,0,0)"},
{"offset":0.77,"color":"rgba(0,0,0,0.6)"},{"offset":0.777,"color":"rgba(0,0,0,0)"},{"offset":0.784,"color":"rgba(0,0,0,0.6)"},{"offset":0.791,"color":"rgba(0,0,0,0)"},{"offset":0.798,"color":"rgba(0,0,0,0.6)"},{"offset":0.805,"color":"rgba(0,0,0,0)"},{"offset":0.812,"color":"rgba(0,0,0,0.6)"},{"offset":0.819,"color":"rgba(0,0,0,0)"},{"offset":0.826,"color":"rgba(0,0,0,0.6)"},{"offset":0.833,"color":"rgba(0,0,0,0)"},
{"offset":0.84,"color":"rgba(0,0,0,0.6)"},{"offset":0.847,"color":"rgba(0,0,0,0)"},{"offset":0.854,"color":"rgba(0,0,0,0.6)"},{"offset":0.861,"color":"rgba(0,0,0,0)"},{"offset":0.868,"color":"rgba(0,0,0,0.6)"},{"offset":0.875,"color":"rgba(0,0,0,0)"},{"offset":0.882,"color":"rgba(0,0,0,0.6)"},{"offset":0.889,"color":"rgba(0,0,0,0)"},{"offset":0.896,"color":"rgba(0,0,0,0.6)"},{"offset":0.903,"color":"rgba(0,0,0,0)"},
{"offset":0.91,"color":"rgba(0,0,0,0.6)"},{"offset":0.917,"color":"rgba(0,0,0,0)"},{"offset":0.924,"color":"rgba(0,0,0,0.6)"},{"offset":0.931,"color":"rgba(0,0,0,0)"},{"offset":0.938,"color":"rgba(0,0,0,0.6)"},{"offset":0.945,"color":"rgba(0,0,0,0)"},{"offset":0.952,"color":"rgba(0,0,0,0.6)"},{"offset":0.959,"color":"rgba(0,0,0,0)"},{"offset":0.966,"color":"rgba(0,0,0,0.6)"},{"offset":0.973,"color":"rgba(0,0,0,0)"},
{"offset":0.98,"color":"rgba(0,0,0,0.6)"},{"offset":0.987,"color":"rgba(0,0,0,0)"},{"offset":0.994,"color":"rgba(0,0,0,0.6)"},{"offset":1,"color":"rgba(0,0,0,0.3)"}]}}},
{"transform":[{"filter":"datum.lipopeptide === 'fengycin (53)'"}],
"mark":{"type":"rule","color":"black","strokeWidth":111.6,"strokeDash":[1,3.4]},
"encoding":{"y2":{"datum":0}}}
]},
{"mark":{"type":"bar","filled":false,"stroke":"black","strokeWidth":1},
"encoding":{"x":{"field":"lipopeptide","type":"nominal","sort":null,
"axis":{"title":null,"labels":false,"orient":"bottom","domain":false,"tickSize":4,"tickWidth":1.5,"tickColor":"black","grid":false}}}}
],
"resolve":{"axis":{"x":"independent"}}
}
